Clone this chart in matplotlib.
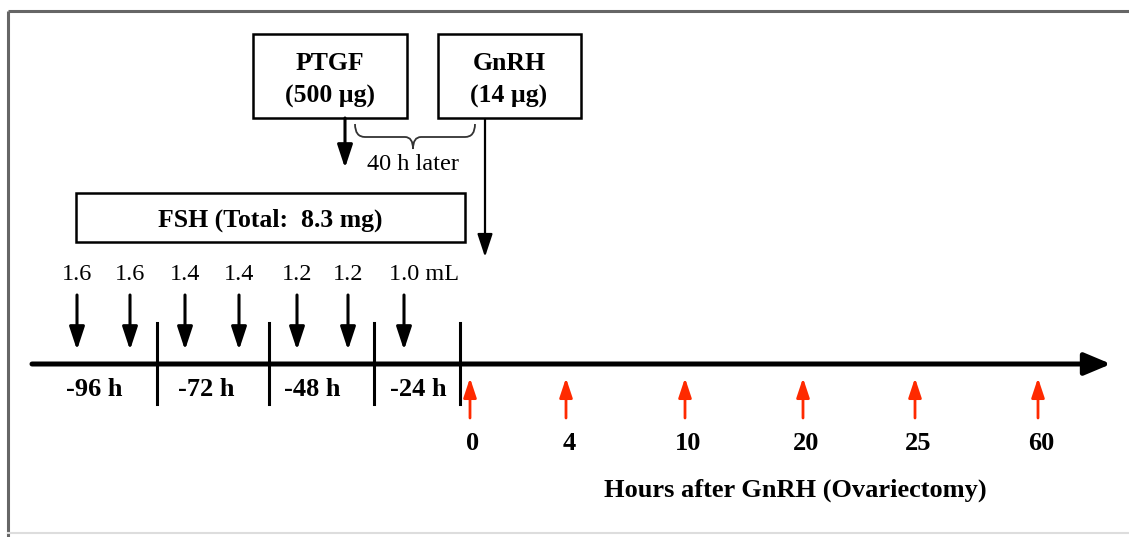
import matplotlib
matplotlib.use("Agg")
import matplotlib.pyplot as plt
from matplotlib.path import Path
from matplotlib.patches import PathPatch, Rectangle

# ---------------- data ----------------
fsh_doses = [1.6, 1.6, 1.4, 1.4, 1.2, 1.2, 1.0]
dose_unit = "mL"
day_labels = ["-96 h", "-72 h", "-48 h", "-24 h"]
sample_hours = [0, 4, 10, 20, 25, 60]
ptgf_text = ["PTGF", "(500 µg)"]
gnrh_text = ["GnRH", "(14 µg)"]
fsh_text = "FSH (Total:  8.3 mg)"
gap_text = "40 h later"
xlabel_text = "Hours after GnRH (Ovariectomy)"

# ---------------- layout (pixel space) ----------------
W, H = 1129, 537
fig = plt.figure(figsize=(W / 100, H / 100), dpi=100)
ax = fig.add_axes([0, 0, 1, 1])
ax.set_xlim(0, W)
ax.set_ylim(H, 0)
ax.axis("off")

serif = ["Liberation Serif", "DejaVu Serif"]
FS_REG = 17.5
FS_BOLD = 19
FS_BOX = 18.5


def arrow(x0, y0, x1, y1, lw, color, hl, hw, ms):
    ax.annotate("", xy=(x1, y1), xytext=(x0, y0),
                arrowprops=dict(arrowstyle=f"-|>,head_length={hl},head_width={hw}",
                                lw=lw, color=color, shrinkA=0, shrinkB=0,
                                mutation_scale=ms))


# outer frame
ax.plot([8, W], [11, 11], color="#666666", lw=2.2, solid_capstyle="butt")
ax.plot([8, 8], [11, H], color="#666666", lw=2.2, solid_capstyle="butt")
ax.plot([8, W], [533, 533], color="#dddddd", lw=1.5)

# timeline axis
axis_y = 364
arrow(32, axis_y, 1111, axis_y, 3.6, "black", 1.0, 0.42, 16)

# day dividers
divider_x = [157, 269, 374, 460]
for x in divider_x:
    ax.plot([x, x], [323, 404], color="black", lw=2.2)

# day labels
day_x = [94, 206, 312, 418]
for x, lab in zip(day_x, day_labels):
    ax.text(x, 389, lab, ha="center", va="center", fontsize=FS_BOLD,
            fontweight="bold", family=serif)

# FSH injection arrows and doses
fsh_x = [77, 130, 185, 239, 297, 348, 404]
for i, (x, d) in enumerate(zip(fsh_x, fsh_doses)):
    arrow(x, 295, x, 350, 2.2, "black", 1.0, 0.33, 14)
    lab = f"{d:.1f}"
    if i == len(fsh_doses) - 1:
        ax.text(x - 15, 275, lab + " " + dose_unit, ha="left", va="center",
                fontsize=FS_REG, family=serif)
    else:
        ax.text(x, 275, lab, ha="center", va="center", fontsize=FS_REG,
                family=serif)

# red sampling arrows and hour labels
red_x = [470, 566, 685, 803, 915, 1038]
for x, h in zip(red_x, sample_hours):
    arrow(x, 418, x, 378, 2.0, "#ff2a00", 0.9, 0.3, 13)
    ax.text(x + 3, 444, str(h), ha="center", va="center", fontsize=FS_BOLD,
            fontweight="bold", family=serif)

ax.text(795, 490, xlabel_text, ha="center", va="center", fontsize=FS_BOLD,
        fontweight="bold", family=serif)


# boxes
def box(x0, y0, x1, y1):
    ax.add_patch(Rectangle((x0, y0), x1 - x0, y1 - y0, fill=False,
                           ec="black", lw=1.8))


box(253, 34, 407, 118)
ax.text(330, 64, ptgf_text[0], ha="center", va="center", fontsize=FS_BOX,
        fontweight="bold", family=serif)
ax.text(330, 96, ptgf_text[1], ha="center", va="center", fontsize=FS_BOX,
        fontweight="bold", family=serif)

box(438, 34, 581, 118)
ax.text(509, 64, gnrh_text[0], ha="center", va="center", fontsize=FS_BOX,
        fontweight="bold", family=serif)
ax.text(509, 96, gnrh_text[1], ha="center", va="center", fontsize=FS_BOX,
        fontweight="bold", family=serif)

box(76, 193, 465, 242)
ax.text(270, 220, fsh_text, ha="center", va="center", fontsize=FS_BOX,
        fontweight="bold", family=serif)

# PTGF arrow
arrow(345, 118, 345, 168, 2.2, "black", 1.0, 0.33, 14)
# GnRH arrow
arrow(485, 119, 485, 257, 1.6, "black", 1.0, 0.33, 14)

# curly brace
xl, xr, xt = 355, 475, 413
yt, ym, yb = 124, 137, 149
verts = [(xl, yt), (xl, ym), (xl + 10, ym),
         (xt - 8, ym),
         (xt, ym), (xt, yb),
         (xt, ym), (xt + 8, ym),
         (xr - 10, ym),
         (xr, ym), (xr, yt)]
codes = [Path.MOVETO, Path.CURVE3, Path.CURVE3,
         Path.LINETO,
         Path.CURVE3, Path.CURVE3,
         Path.CURVE3, Path.CURVE3,
         Path.LINETO,
         Path.CURVE3, Path.CURVE3]
ax.add_patch(PathPatch(Path(verts, codes), fill=False, ec="#333333", lw=1.3))
ax.text(413, 164, gap_text, ha="center", va="center", fontsize=FS_REG,
        family=serif)

fig.savefig("out.png", dpi=100)
